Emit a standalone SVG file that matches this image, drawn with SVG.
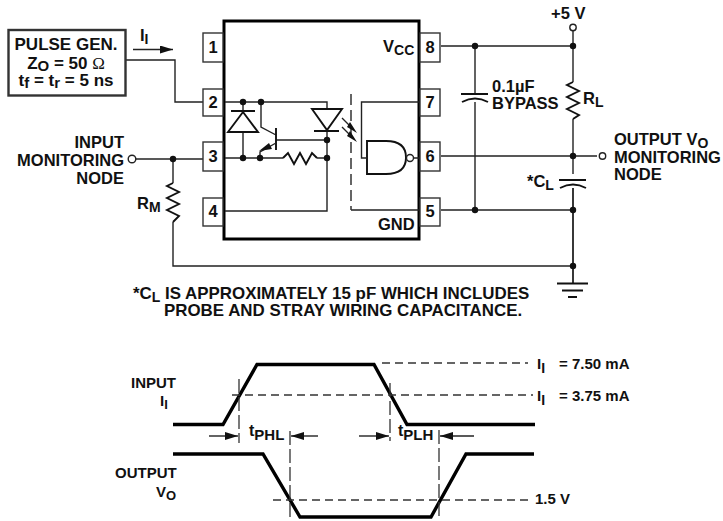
<svg xmlns="http://www.w3.org/2000/svg" width="723" height="521" viewBox="0 0 723 521">
<style>
text{font-family:"Liberation Sans",Arial,sans-serif;font-weight:700;font-size:16.500px;fill:#111}
.s{font-size:15px}
.c{font-size:16.900px}
.b{font-size:17px}
.m{text-anchor:middle}
.e{text-anchor:end}
.l{fill:none;stroke:#222;stroke-width:1.4}
.t{fill:none;stroke:#111;stroke-width:1.900}
.w{fill:none;stroke:#000;stroke-width:3.4}
.d{fill:none;stroke:#333;stroke-width:1.3;stroke-dasharray:8 5}
.p{fill:#fff;stroke:#333;stroke-width:1.4}
.o{fill:#fff;stroke:#222;stroke-width:1.4}
.f{fill:#111;stroke:none}
</style>
<defs>
<marker id="a" markerUnits="userSpaceOnUse" markerWidth="14" markerHeight="8" refX="13" refY="4" orient="auto"><path d="M0 0L13 4L0 8z" fill="#111"/></marker>
<circle id="dot" r="3.2" fill="#111"/>
</defs>
<g id="connectors">
<path class="l" d="M126 60H175V102H203"/>
<path class="l" d="M133 49.500H173" marker-end="url(#a)"/>
<path class="l" d="M135 159H203"/>
<path class="l" d="M173 159V183M173 222V266H573"/>
<path class="t" d="M173 183L167 186L179 192L167 198L179 204L167 210L179 216L173 222"/>
<path class="l" d="M441 46H573M441 156H597M441 210H573"/>
<path class="l" d="M573 30V82M573 119V174"/>
<path class="t" d="M573 82L567 85L579 91L567 97L579 103L567 109L579 115L573 119"/>
<path class="l" d="M475 46V93M475 102V210"/>
<path class="t" d="M461 94H488M462 102Q475 95 488 102"/>
<path class="t" d="M559 180H586M560 188Q573 181 586 188"/>
<path class="l" d="M573 188V283" style="stroke-width:1.8"/>
<path class="t" d="M557 283.500H588M562 290.500H583M568 297H577"/>
<circle class="o" cx="132" cy="159" r="3.800"/>
<circle class="o" cx="573" cy="27.500" r="3.200"/>
<circle class="o" cx="602.500" cy="156" r="3.200"/>
<use href="#dot" x="173" y="159"/>
<use href="#dot" x="475" y="46"/>
<use href="#dot" x="573" y="46"/>
<use href="#dot" x="573" y="156"/>
<use href="#dot" x="475" y="210"/>
<use href="#dot" x="573" y="210"/>
<use href="#dot" x="573" y="266"/>
</g>
<g id="pulse-gen">
<rect x="8.500" y="30" width="117" height="65.500" fill="#fff" stroke="#333" stroke-width="2.400"/>
<text class="m b" x="66" y="50">PULSE GEN.</text>
<text class="m b" x="66" y="69">Z<tspan font-size="15" dy="2">O</tspan><tspan dy="-2"> = 50 </tspan><tspan font-family="Liberation Serif" font-weight="400">Ω</tspan></text>
<text class="m b" x="66" y="86">t<tspan font-size="15" dy="2">f</tspan><tspan dy="-2">  = t</tspan><tspan font-size="15" dy="2">r</tspan><tspan dy="-2">  = 5 ns</tspan></text>
</g>
<g id="ic">
<rect x="224" y="21" width="195" height="218" fill="#fff" stroke="#000" stroke-width="3"/>
<text x="383" y="52">V<tspan font-size="14" dy="3">CC</tspan></text>
<text x="378" y="230">GND</text>
</g>
<g id="pins">
<g id="pin1"><rect class="p" x="203" y="33" width="20" height="29"/><text class="m" x="213" y="53">1</text></g>
<g id="pin2"><rect class="p" x="203" y="89" width="20" height="27"/><text class="m" x="213" y="108">2</text></g>
<g id="pin3"><rect class="p" x="203" y="142" width="20" height="29"/><text class="m" x="213" y="162">3</text></g>
<g id="pin4"><rect class="p" x="203" y="198" width="20" height="28"/><text class="m" x="213" y="217">4</text></g>
<g id="pin8"><rect class="p" x="420" y="33" width="20" height="29"/><text class="m" x="430" y="53">8</text></g>
<g id="pin7"><rect class="p" x="420" y="89" width="20" height="27"/><text class="m" x="430" y="108">7</text></g>
<g id="pin6"><rect class="p" x="420" y="142" width="20" height="29"/><text class="m" x="430" y="162">6</text></g>
<g id="pin5"><rect class="p" x="420" y="198" width="20" height="28"/><text class="m" x="430" y="217">5</text></g>
</g>
<g id="ic-internals">
<path class="l" d="M225 102H327V109M225 158H283M317 158H327M327 131V211H225M243 102V112M243 132V158M261 102V127L276 135M276 140H327"/>
<path class="t" d="M231 111H255M228 132L243 112L258 132Z M276 128V150M312 109H342L327 130Z M314 131H339M367 141H386Q406 141 406 157.500Q406 174 386 174H367Z"/>
<path class="l" d="M276 143L260 152V158"/>
<path class="f" d="M259 151L269 143L272 149z"/>
<path class="t" d="M283 158L288 153L294 164L300 153L306 164L312 153L317 158"/>
<circle cx="410" cy="158" r="3.500" class="o"/>
<path class="l" d="M414 158H420M367 158H361.500V102H420M351 210H420"/>
<path class="d" d="M351 94V210" style="stroke-width:1.500;stroke-dasharray:11 5"/>
<path class="l" d="M342 118L352 128M342 127L352 137"/>
<path class="f" d="M350 122L357 133L347 127L350 122zM350 131L357 142L347 136L350 131z"/>
<use href="#dot" x="243" y="102"/>
<use href="#dot" x="261" y="102"/>
<use href="#dot" x="243" y="158"/>
<use href="#dot" x="260" y="158"/>
<use href="#dot" x="327" y="158"/>
<use href="#dot" x="327" y="140"/>
</g>
<g id="labels">
<text x="140" y="41">I<tspan font-size="14" dy="3">I</tspan></text>
<text class="e" x="124" y="148">INPUT</text>
<text class="e" x="124" y="166">MONITORING</text>
<text class="e" x="124" y="184">NODE</text>
<text x="137" y="209">R<tspan font-size="14" dy="3">M</tspan></text>
<text x="551" y="19">+5 V</text>
<text x="492" y="92">0.1µF</text>
<text x="492" y="109">BYPASS</text>
<text x="583" y="104">R<tspan font-size="14" dy="3">L</tspan></text>
<text x="614" y="145">OUTPUT V<tspan font-size="14" dy="3">O</tspan></text>
<text x="614" y="163">MONITORING</text>
<text x="614" y="180">NODE</text>
<text x="527" y="187">*C<tspan font-size="14" dy="3">L</tspan></text>
<text x="133" y="299" class="c">*C<tspan font-size="14" dy="3">L</tspan><tspan dy="-3"> IS APPROXIMATELY 15 pF WHICH INCLUDES</tspan></text>
<text x="164" y="316" class="c">PROBE AND STRAY WIRING CAPACITANCE.</text>
</g>
<g id="waveforms">
<path class="w" d="M173 424.500H223L257 364.500H374L407 424.500H535"/>
<path class="w" d="M173 454H263L300 517H431L466 454H534"/>
<path class="d" d="M382 363H528M232 395H533M273 500H530"/>
<path class="d" d="M239 379V443M290 431V519M390 383V441M439 430V517" style="stroke-dasharray:14 4"/>
<path class="l" d="M209 436H238" marker-end="url(#a)"/>
<path class="l" d="M318 436H291" marker-end="url(#a)"/>
<path class="l" d="M359 436H389" marker-end="url(#a)"/>
<path class="l" d="M474 436H440" marker-end="url(#a)"/>
<text class="s" x="131" y="388">INPUT</text>
<text class="s" x="160" y="406">I<tspan font-size="13" dy="3">I</tspan></text>
<text class="s" x="115" y="478">OUTPUT</text>
<text class="s" x="156" y="497">V<tspan font-size="13" dy="3">O</tspan></text>
<text class="s" x="249" y="436" style="font-size:16px">t<tspan font-size="15" dy="4">PHL</tspan></text>
<text class="s" x="398" y="436" style="font-size:16px">t<tspan font-size="15" dy="4">PLH</tspan></text>
<text class="s" x="537" y="369">I<tspan font-size="14" dy="4">I</tspan></text>
<text class="s" x="559" y="369">= 7.50 mA</text>
<text class="s" x="537" y="401">I<tspan font-size="14" dy="4">I</tspan></text>
<text class="s" x="559" y="401">= 3.75 mA</text>
<text class="s" x="535" y="504">1.5 V</text>
</g>
</svg>
